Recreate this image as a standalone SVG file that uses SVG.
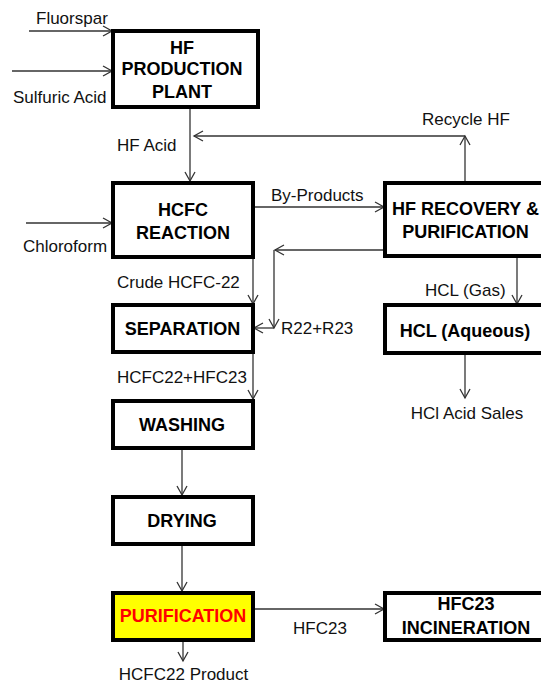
<svg xmlns="http://www.w3.org/2000/svg" width="541" height="685" viewBox="0 0 541 685">
<style>
.box{fill:#fff;stroke:#000;stroke-width:4}
.bt{font-family:"Liberation Sans",Arial,sans-serif;font-weight:bold;font-size:18px;text-anchor:middle;fill:#000}
.lt{font-family:"Liberation Sans",Arial,sans-serif;font-size:17px;fill:#111}
.ln{fill:none;stroke:#333;stroke-width:1.3}
.ar{marker-end:url(#ah)}
</style>
<defs>
<marker id="ah" markerWidth="12" markerHeight="12" refX="10" refY="6" orient="auto" markerUnits="userSpaceOnUse">
<polyline points="1,1 10,6 1,11" fill="none" stroke="#333" stroke-width="1.3"/>
</marker>
</defs>
<rect width="541" height="685" fill="#fff"/>
<g id="connectors">
<line class="ln ar" x1="29" y1="31" x2="112" y2="31"/>
<line class="ln ar" x1="12" y1="71" x2="112" y2="71"/>
<line class="ln ar" x1="190" y1="107" x2="190" y2="181"/>
<line class="ln ar" x1="465" y1="182" x2="465" y2="136"/>
<line class="ln ar" x1="465" y1="136" x2="194" y2="136"/>
<line class="ln ar" x1="26" y1="223" x2="112" y2="223"/>
<line class="ln ar" x1="253" y1="207" x2="384" y2="207"/>
<line class="ln ar" x1="384" y1="250" x2="275" y2="250"/>
<line class="ln ar" x1="274" y1="250" x2="274" y2="328"/>
<line class="ln ar" x1="274" y1="328" x2="254" y2="328"/>
<line class="ln ar" x1="253" y1="257" x2="253" y2="304"/>
<line class="ln ar" x1="253" y1="352" x2="253" y2="399"/>
<line class="ln ar" x1="182" y1="448" x2="182" y2="495"/>
<line class="ln ar" x1="182" y1="544" x2="182" y2="591"/>
<line class="ln ar" x1="253" y1="609" x2="384" y2="609"/>
<line class="ln ar" x1="183" y1="640" x2="183" y2="661"/>
<line class="ln ar" x1="517" y1="256" x2="517" y2="304"/>
<line class="ln ar" x1="465" y1="353" x2="465" y2="398"/>
</g>
<g id="labels">
<text class="lt" x="36" y="24">Fluorspar</text>
<text class="lt" x="13" y="103">Sulfuric Acid</text>
<text class="lt" x="117" y="151">HF Acid</text>
<text class="lt" x="422" y="125">Recycle HF</text>
<text class="lt" x="271" y="201">By-Products</text>
<text class="lt" x="23" y="252">Chloroform</text>
<text class="lt" x="117" y="288">Crude HCFC-22</text>
<text class="lt" x="425" y="296">HCL (Gas)</text>
<text class="lt" x="281" y="334">R22+R23</text>
<text class="lt" x="117" y="383">HCFC22+HFC23</text>
<text class="lt" x="467" y="419" text-anchor="middle">HCl Acid Sales</text>
<text class="lt" x="293" y="634">HFC23</text>
<text class="lt" x="183.5" y="680" text-anchor="middle">HCFC22 Product</text>
</g>
<g id="hf-production">
<rect class="box" x="113" y="31" width="145" height="76"/>
<text class="bt" x="182" y="53.5">HF</text>
<text class="bt" x="182" y="75">PRODUCTION</text>
<text class="bt" x="182" y="97.5">PLANT</text>
</g>
<g id="hcfc-reaction">
<rect class="box" x="113" y="183" width="140" height="74"/>
<text class="bt" x="183" y="215.5">HCFC</text>
<text class="bt" x="183" y="238.5">REACTION</text>
</g>
<g id="hf-recovery">
<rect class="box" x="385" y="183" width="158" height="73"/>
<text class="bt" x="465.5" y="215">HF RECOVERY &amp;</text>
<text class="bt" x="465.5" y="238">PURIFICATION</text>
</g>
<g id="separation">
<rect class="box" x="113" y="305" width="140" height="47"/>
<text class="bt" x="182.5" y="334.5">SEPARATION</text>
</g>
<g id="hcl-aqueous">
<rect class="box" x="385" y="305" width="158" height="48"/>
<text class="bt" x="465" y="336.5">HCL (Aqueous)</text>
</g>
<g id="washing">
<rect class="box" x="113" y="401" width="140" height="47"/>
<text class="bt" x="182" y="430.5">WASHING</text>
</g>
<g id="drying">
<rect class="box" x="113" y="497" width="140" height="47"/>
<text class="bt" x="182" y="526.5">DRYING</text>
</g>
<g id="purification">
<rect class="box" x="113" y="593" width="140" height="47" style="fill:#ffff00"/>
<text class="bt" x="183" y="621.5" style="fill:#ff0000">PURIFICATION</text>
</g>
<g id="hfc23-incineration">
<rect class="box" x="385" y="593" width="158" height="47"/>
<text class="bt" x="466" y="609.5">HFC23</text>
<text class="bt" x="466" y="633.5">INCINERATION</text>
</g>
</svg>
